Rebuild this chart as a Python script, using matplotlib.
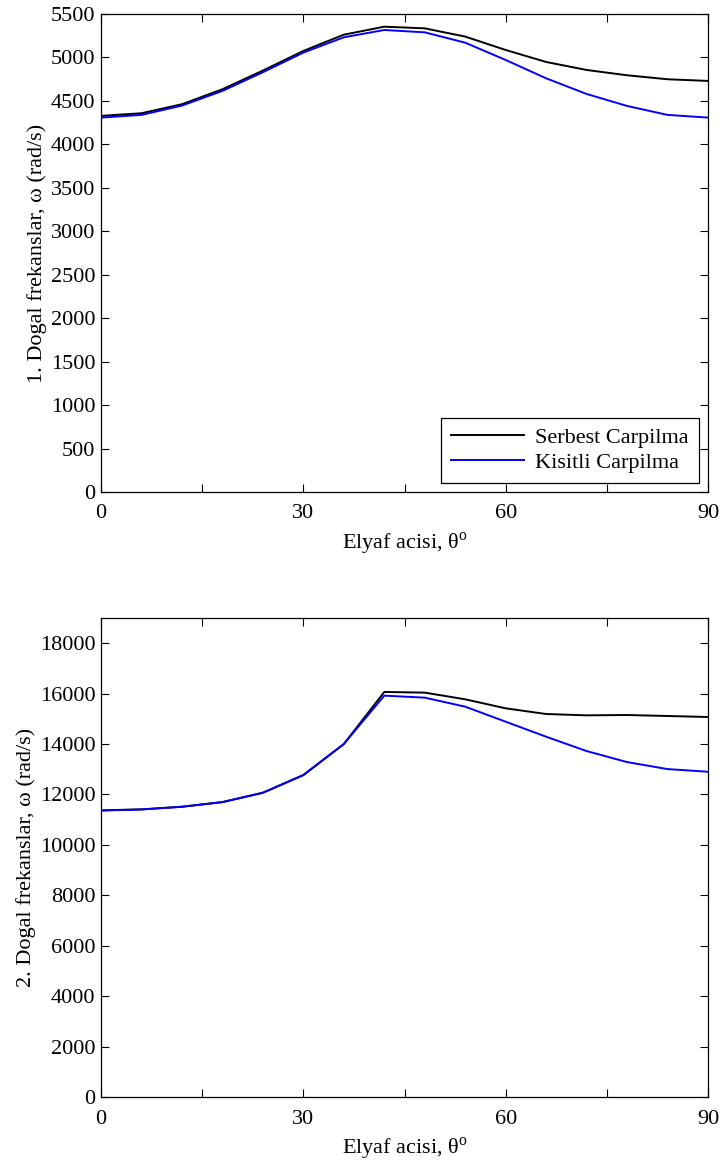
import matplotlib

matplotlib.use("Agg")
import matplotlib.pyplot as plt
from matplotlib.ticker import FuncFormatter

plt.rcParams["font.family"] = ["Liberation Serif", "DejaVu Serif"]
plt.rcParams["mathtext.fontset"] = "custom"
plt.rcParams["mathtext.rm"] = "Liberation Serif"
plt.rcParams["font.size"] = 16

# fibre angle (deg)
theta = [0, 6, 12, 18, 24, 30, 36, 42, 48, 54, 60, 66, 72, 78, 84, 90]

# 1st natural frequency (rad/s)
mode1_free = [4328, 4358, 4462, 4634, 4849, 5075, 5262, 5354, 5335, 5240,
              5086, 4948, 4856, 4795, 4749, 4730]
mode1_fixed = [4308, 4339, 4446, 4615, 4830, 5056, 5232, 5316, 5289, 5170,
               4971, 4760, 4580, 4442, 4339, 4308]

# 2nd natural frequency (rad/s)
mode2_free = [11370, 11410, 11515, 11700, 12070, 12770, 14000, 16066, 16040,
              15775, 15417, 15192, 15139, 15152, 15113, 15073]
mode2_fixed = [11364, 11404, 11510, 11695, 12066, 12768, 14000, 15920, 15841,
               15483, 14887, 14291, 13722, 13285, 13007, 12901]

series_labels = ["Serbest Carpilma", "Kisitli Carpilma"]
x_ticks = [0, 15, 30, 45, 60, 75, 90]


def _style(ax, ylim, ystep, ylabel):
    ax.set_xlim(0, 90)
    ax.set_ylim(0, ylim)
    ax.set_xticks(x_ticks)
    ax.xaxis.set_major_formatter(FuncFormatter(lambda v, p: f"{v:.0f}" if v % 30 == 0 else ""))
    ax.set_yticks(range(0, ylim + 1, ystep))
    ax.tick_params(direction="in", top=True, right=True, length=6, width=0.8,
                   labelsize=16, pad=4)
    ax.tick_params(axis="x", pad=9)
    ax.set_xlabel("Elyaf acisi, θ$^{\\mathrm{o}}$", fontsize=16, labelpad=5)
    ax.set_ylabel(ylabel, fontsize=16, labelpad=3)
    for s in ax.spines.values():
        s.set_linewidth(0.9)


fig = plt.figure(figsize=(7.21, 11.62), dpi=100)
ax1 = fig.add_axes([101 / 721, 1 - 492 / 1162, 607 / 721, 478 / 1162])
ax2 = fig.add_axes([101 / 721, 1 - 1097 / 1162, 607 / 721, 479 / 1162])

ax1.plot(theta, mode1_free, color="black", linewidth=1.4, label=series_labels[0])
ax1.plot(theta, mode1_fixed, color="#0000ff", linewidth=1.4, label=series_labels[1])
_style(ax1, 5500, 500, "1. Dogal frekanslar, ω (rad/s)")
leg = ax1.legend(loc="lower right", fontsize=16, fancybox=False, edgecolor="black",
                 framealpha=1, borderaxespad=0.4, handlelength=3.3, labelspacing=0.2,
                 borderpad=0.45, handletextpad=0.5)
leg.get_frame().set_linewidth(0.9)

ax2.plot(theta, mode2_free, color="black", linewidth=1.4)
ax2.plot(theta, mode2_fixed, color="#0000ff", linewidth=1.4)
_style(ax2, 19000, 2000, "2. Dogal frekanslar, ω (rad/s)")
ax2.set_yticks(range(0, 18001, 2000))

fig.savefig("out.png", dpi=100)
